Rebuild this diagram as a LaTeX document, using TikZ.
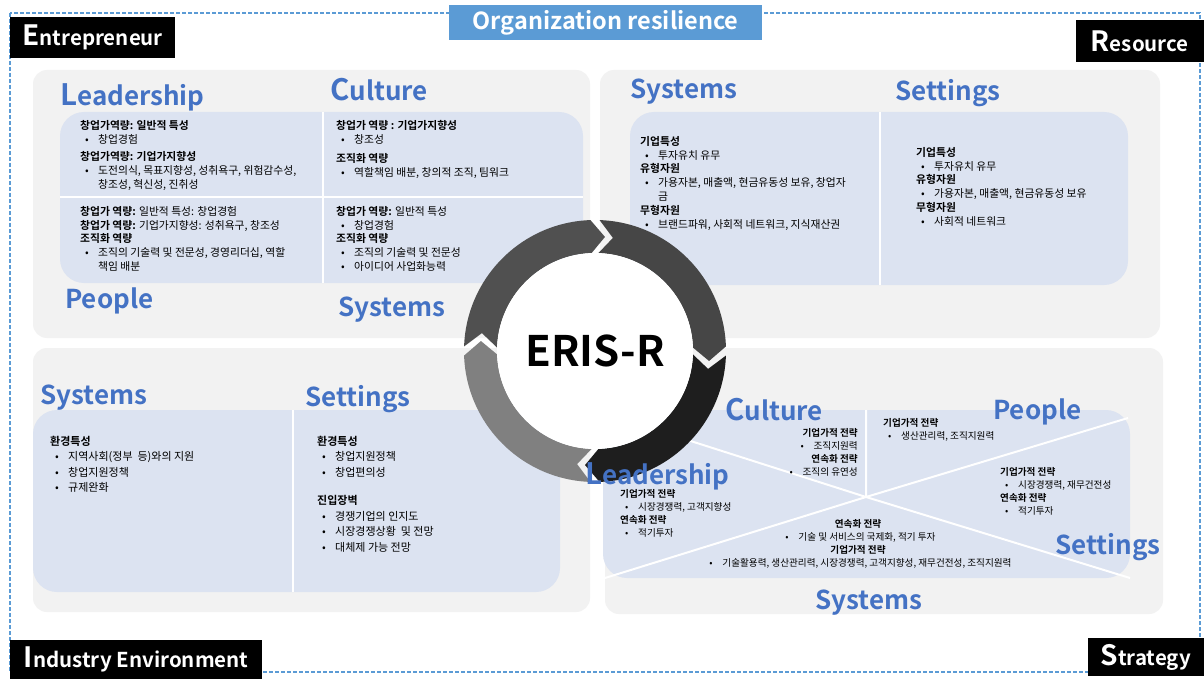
\documentclass[tikz,border=0pt]{standalone}
\usepackage{fontspec}
\setmainfont{Noto Sans CJK KR}[BoldFont={Noto Sans CJK KR Bold}]
\usetikzlibrary{positioning}

\definecolor{panelgray}{RGB}{242,242,242}
\definecolor{cellblue}{RGB}{220,227,241}
\definecolor{labelblue}{RGB}{68,114,196}
\definecolor{titleblue}{RGB}{91,155,213}
\definecolor{borderblue}{RGB}{91,155,213}
\definecolor{ringA}{RGB}{70,70,70}
\definecolor{ringB}{RGB}{30,30,30}
\definecolor{ringC}{RGB}{128,128,128}
\definecolor{ringD}{RGB}{80,80,80}

\newcommand\bul{\hspace*{5pt}\makebox[13pt][l]{•}}
\newcommand\cont{\hspace*{18pt}}
\newcommand\bigfirst[1]{{\fontsize{29.5}{30}\selectfont #1}}
\newcommand\tagfirst[1]{{\fontsize{28}{28}\selectfont #1}}
% one arrow part of the ring: colour, start angle, end angle
\newcommand\ringpart[3]{%
  \fill[#1] (#2:131) arc[start angle=#2,end angle=#3,radius=131]
    -- ({#3+7}:114.5) -- (#3:98) arc[start angle=#3,end angle=#2,radius=98]
    -- ({#2+7}:114.5) -- cycle;}

\begin{document}
\begin{tikzpicture}[x=1pt,y=-1pt,
  panel/.style={fill=panelgray,rounded corners=14pt},
  cellbox/.style={fill=cellblue,rounded corners=24pt},
  divider/.style={draw=white,line width=2pt},
  cell text/.style={anchor=north west,align=left,inner sep=0pt,font=\fontsize{10.8}{13.8}\selectfont},
  wide text/.style={cell text,font=\fontsize{11}{15.5}\selectfont},
  small text/.style={cell text,font=\fontsize{9.6}{13.2}\selectfont},
  area label/.style={anchor=base west,inner sep=0pt,text=labelblue,font=\bfseries\fontsize{26}{27}\selectfont},
  corner tag/.style={fill=black,text=white,inner sep=0pt,font=\bfseries\fontsize{20.5}{21}\selectfont}]

  \useasboundingbox (0,0) rectangle (1204,679);
  \fill[white] (0,0) rectangle (1204,679);
  \draw[borderblue,line width=1.5pt,dash pattern=on 4pt off 2pt] (10,13) rectangle (1200,672);

  % quadrant panels
  \fill[panel] (33,70) rectangle (590,338);
  \fill[panel] (600,70) rectangle (1160,338);
  \fill[panel] (33,348) rectangle (590,612);
  \fill[panel] (605,348) rectangle (1163,614);

  % cells
  \fill[cellbox] (60,112) rectangle (583,283);
  \draw[divider] (323,112) -- (323,283) (60,197) -- (583,197);
  \fill[cellbox] (630,112) rectangle (1128,285);
  \draw[divider] (880,112) -- (880,285);
  \fill[cellbox] (33,410) rectangle (560,592);
  \draw[divider] (293,410) -- (293,592);
  \fill[cellbox] (603,410) rectangle (1130,578);
  \coordinate (hub) at (866,497);
  \draw[divider] (hub) -- (603,413) (hub) -- (866,410) (hub) -- (1128,418)
    (hub) -- (1130,578) (hub) -- (605,578);

  % entrepreneur
  \node[cell text] (entLead) at (80,120) {\textbf{창업가역량: 일반적 특성}\\
    \bul 창업경험\\[4pt]
    \textbf{창업가역량: 기업가지향성}\\
    \bul 도전의식, 목표지향성, 성취욕구, 위험감수성,\\
    \cont 창조성, 혁신성, 진취성};
  \node[cell text] (entCult) at (336,120) {\textbf{창업가 역량 : 기업가지향성}\\
    \bul 창조성\\[6pt]
    \textbf{조직화 역량}\\
    \bul 역할책임 배분, 창의적 조직, 팀워크};
  \node[cell text] (entPeop) at (80,206) {\textbf{창업가 역량:} 일반적 특성: 창업경험\\
    \textbf{창업가 역량:} 기업가지향성: 성취욕구, 창조성\\
    \textbf{조직화 역량}\\
    \bul 조직의 기술력 및 전문성, 경영리더십, 역할\\
    \cont 책임 배분};
  \node[cell text] (entSys) at (336,206) {\textbf{창업가 역량:} 일반적 특성\\
    \bul 창업경험\\
    \textbf{조직화 역량}\\
    \bul 조직의 기술력 및 전문성\\
    \bul 아이디어 사업화능력};

  % resource
  \node[cell text] (resSys) at (640,136) {\textbf{기업특성}\\
    \bul 투자유치 유무\\
    \textbf{유형자원}\\
    \bul 가용자본, 매출액, 현금유동성 보유, 창업자\\
    \cont 금\\
    \textbf{무형자원}\\
    \bul 브랜드파워, 사회적 네트워크, 지식재산권};
  \node[cell text] (resSet) at (916,147) {\textbf{기업특성}\\
    \bul 투자유치 유무\\
    \textbf{유형자원}\\
    \bul 가용자본, 매출액, 현금유동성 보유\\
    \textbf{무형자원}\\
    \bul 사회적 네트워크};

  % industry environment
  \node[wide text] (indSys) at (50,436) {\textbf{환경특성}\\
    \bul 지역사회(정부 \ 등)와의 지원\\
    \bul 창업지원정책\\
    \bul 규제완화};
  \node[wide text] (indSet) at (317,436) {\textbf{환경특성}\\
    \bul 창업지원정책\\
    \bul 창업편의성\\[13pt]
    \textbf{진입장벽}\\
    \bul 경쟁기업의 인지도\\
    \bul 시장경쟁상황 \ 및 전망\\
    \bul 대체제 가능 전망};

  % strategy
  \node[small text,anchor=north east,align=right] (strCult) at (858,428) {\textbf{기업가적 전략}\\
    \bul 조직지원력\\
    \textbf{연속화 전략}\\
    \bul 조직의 유연성};
  \node[small text] (strPeop) at (883,418) {\textbf{기업가적 전략}\\
    \bul 생산관리력, 조직지원력};
  \node[small text] (strSet) at (1000,467) {\textbf{기업가적 전략}\\
    \bul 시장경쟁력, 재무건전성\\
    \textbf{연속화 전략}\\
    \bul 적기투자};
  \node[small text] (strLead) at (620,489) {\textbf{기업가적 전략}\\
    \bul 시장경쟁력, 고객지향성\\
    \textbf{연속화 전략}\\
    \bul 적기투자};
  \node[small text,anchor=north,align=center] (strSys) at (858,519) {\textbf{연속화 전략}\\
    \bul 기술 및 서비스의 국제화, 적기 투자\\
    \textbf{기업가적 전략}\\
    \bul 기술활용력, 생산관리력, 시장경쟁력, 고객지향성, 재무건전성, 조직지원력};

  % ring
  \begin{scope}[shift={(595,351)}]
    \ringpart{ringA}{272}{358}
    \ringpart{ringB}{362}{448}
    \ringpart{ringC}{452}{538}
    \ringpart{ringD}{542}{628}
    \fill[white] (0,0) circle[radius=98];
  \end{scope}
  \node[font=\bfseries\fontsize{42}{42}\selectfont,inner sep=0pt] (eris) at (595,351) {ERIS-R};

  % area labels
  \node[area label] (lblLead1) at (60,106) {\bigfirst{L}eadership};
  \node[area label] (lblCult1) at (330,101) {\bigfirst{C}ulture};
  \node[area label] (lblPeop1) at (65,308) {People};
  \node[area label] (lblSys1) at (338,316) {Systems};
  \node[area label] (lblSys2) at (630,99) {Systems};
  \node[area label] (lblSet2) at (895,101) {Settings};
  \node[area label] (lblSys3) at (40,404) {Systems};
  \node[area label] (lblSet3) at (305,406) {Settings};
  \node[area label] (lblCult4) at (725,420) {\bigfirst{C}ulture};
  \node[area label] (lblPeop4) at (993,419) {People};
  \node[area label] (lblLead4) at (585,484) {\bigfirst{L}eadership};
  \node[area label] (lblSet4) at (1055,554) {Settings};
  \node[area label] (lblSys4) at (815,609) {Systems};

  % corner tags and title
  \node[corner tag,minimum width=165pt,minimum height=41pt,anchor=north west] (entre) at (10,17) {\tagfirst{E}ntrepreneur};
  \node[corner tag,minimum width=128pt,minimum height=42pt,anchor=north east] (resrc) at (1204,20) {\tagfirst{R}esource};
  \node[corner tag,minimum width=252pt,minimum height=39pt,anchor=south west] (indus) at (10,679) {\tagfirst{I}ndustry Environment};
  \node[corner tag,minimum width=116pt,minimum height=38pt,anchor=north east] (strat) at (1204,638) {\tagfirst{S}trategy};
  \node[fill=titleblue,text=white,minimum width=313pt,minimum height=35pt,inner sep=0pt,
    font=\bfseries\fontsize{23.5}{24}\selectfont,anchor=north west] (title) at (449,5) {Organization resilience};
\end{tikzpicture}
\end{document}
